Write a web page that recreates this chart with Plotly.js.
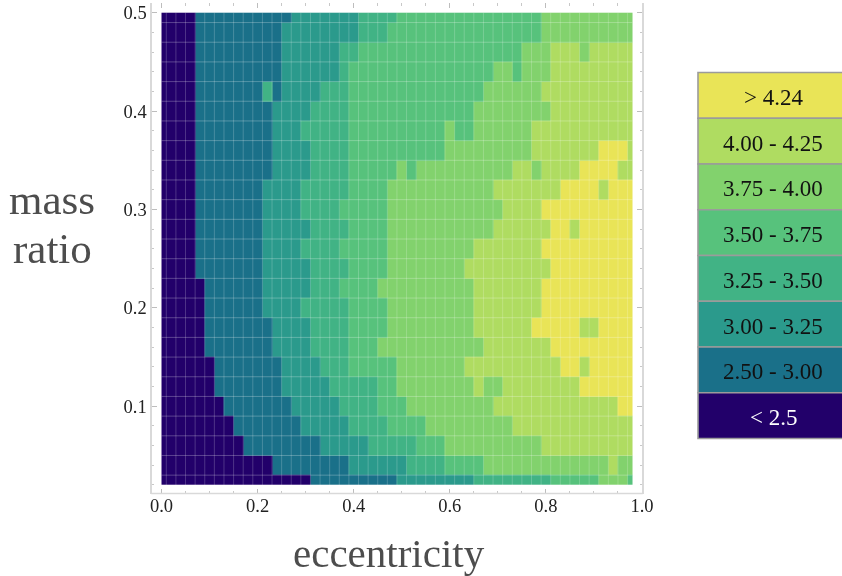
<!DOCTYPE html>
<html>
<head>
<meta charset="utf-8">
<script src="https://cdn.plot.ly/plotly-3.0.1.min.js"></script>
<style>html,body{margin:0;padding:0;background:#fff;overflow:hidden}#chart{width:842px;height:576px;filter:blur(0.4px)}</style>
</head>
<body>
<div id="chart"></div>
<script>
const eccentricity = [0.00,0.02,0.04,0.06,0.08,0.10,0.12,0.14,0.16,0.18,0.20,0.22,0.24,0.26,0.28,0.30,0.32,0.34,0.36,0.38,0.40,0.42,0.44,0.46,0.48,0.50,0.52,0.54,0.56,0.58,0.60,0.62,0.64,0.66,0.68,0.70,0.72,0.74,0.76,0.78,0.80,0.82,0.84,0.86,0.88,0.90,0.92,0.94,0.96,0.98];
const massRatio = [0.50,0.48,0.46,0.44,0.42,0.40,0.38,0.36,0.34,0.32,0.30,0.28,0.26,0.24,0.22,0.20,0.18,0.16,0.14,0.12,0.10,0.08,0.06,0.04,0.02];

// Band index of each cell, one string per mass ratio (top to bottom), spaces only separate runs.
const bandRows = [
"0000 1111111111 2222222 3333 444444444444444 5555555555",
"0000 111111111 22222222 333 4444444444444444 5555555555",
"0000 111111111 222222 33 44444444444444444 555 666 5 66666",
"0000 111111111 222222 3 444444444444444 55 4 555 666666666",
"0000 1111111 3 1 2222 333 44444444444444 555555 6666666666",
"0000 11111111 2222 3333 4444444444444 55555555 666666666",
"0000 11111111 222 33333 4444444444 5 44 555555 66666666666",
"0000 11111111 2222 3333 4444444444 555555555 6666666 777 6",
"0000 11111111 2222 3333 44444 5 4 5555555555 66 5 6666 7777 66",
"0000 1111111 2222 33333 4444 55555555555 6666666 7777 6 777",
"0000 1111111 2222 3333 44444 555555555555 6666 7777777777",
"0000 1111111 22222 3333 4444 55555555555 666666 77 6 777777",
"0000 1111111 2222 3333 44444 555555555 6666666 7777777777",
"0000 1111111 22222 3333 4444 55555555 666666666 777777777",
"00000 111111 22222 333 4444 5555555555 6666666 7777777777",
"00000 111111 2222 33333 4444 555555555 6666666 7777777777",
"00000 1111111 2222 3333 4444 555555555 666666 77777 66 7777",
"00000 1111111 2222 3333 444 55555555555 6666666 777777777",
"000000 1111111 2222 333 44444 5555555 6666666666 77 6 77777",
"000000 1111111 22222 33333 44 55555555 6 55 66666666 777777",
"0000000 1111111 22222 3333 444 555555555 6666666666666 77",
"00000000 1111111 22222 3333 4444 555555555 6666666666666",
"000000000 11111111 22222 33333 444 5555555555 6666666666",
"000000000000 11111111 222222 3333 4444 5555555555555 6 55",
"0000000000000000 111111111 22222222 33333333 44444 555 4"
];
const bandLabels = ["< 2.5","2.50 - 3.00","3.00 - 3.25","3.25 - 3.50","3.50 - 3.75","3.75 - 4.00","4.00 - 4.25","> 4.24"];
const bandColors = ["#22006a","#1a7089","#2b9a8c","#41b385","#57c27c","#82d26d","#afdc61","#e9e457"];
const bandTextColors = ["#ffffff","#111111","#111111","#111111","#111111","#111111","#111111","#111111"];

const W = 842, H = 576;
const px = v => v / W;
const py = v => 1 - v / H;

function edgesOf(c) {
  const e = [c[0]];
  for (let i = 0; i < c.length - 1; i++) e.push((c[i] + c[i + 1]) / 2);
  e.push(c[c.length - 1]);
  return e;
}
const xEdges = edgesOf(eccentricity);
const yEdges = edgesOf(massRatio);
const z = bandRows.map(r => r.replace(/ /g, '').split('').map(Number));

const n = bandColors.length;
const colorscale = [];
bandColors.forEach((c, i) => { colorscale.push([i / n, c]); colorscale.push([(i + 1) / n, c]); });

const shapes = [];
// faint mesh over the cells
const innerX = xEdges.slice(1, -1), innerY = yEdges.slice(1, -1);
innerX.forEach(v => shapes.push({type:'line', xref:'x', yref:'y', x0:v, x1:v, y0:yEdges[yEdges.length-1], y1:yEdges[0], line:{color:'rgba(255,255,255,0.2)', width:1}}));
innerY.forEach(v => shapes.push({type:'line', xref:'x', yref:'y', y0:v, y1:v, x0:xEdges[0], x1:xEdges[xEdges.length-1], line:{color:'rgba(255,255,255,0.26)', width:1}}));
// bottom edge of the frame (the top edge has ticks only)
shapes.push({type:'line', xref:'paper', yref:'paper', x0:px(151.2), x1:px(642.8), y0:py(493.5), y1:py(493.5), line:{color:'#d9d9d9', width:1.5}});

// band key on the right
const annotations = [];
const keyTop = 72.5, keyRow = 45.75, keyLeft = 698, keyRight = 843;
for (let i = 0; i < n; i++) {
  const band = n - 1 - i;
  const y0 = keyTop + i * keyRow, y1 = y0 + keyRow;
  shapes.push({type:'rect', xref:'paper', yref:'paper', x0:px(keyLeft), x1:px(keyRight), y0:py(y0), y1:py(y1),
    fillcolor:bandColors[band], line:{color:'#9b9b9b', width:1.6}});
  annotations.push({xref:'paper', yref:'paper', x:px(773), y:py((y0 + y1) / 2 + 2), text:bandLabels[band], showarrow:false,
    xanchor:'center', yanchor:'middle', font:{family:'Liberation Serif, serif', size:23, color:bandTextColors[band]}});
}
annotations.push({xref:'paper', yref:'paper', x:px(52), y:py(199), text:'mass', showarrow:false, xanchor:'center', yanchor:'middle',
  font:{family:'Liberation Serif, serif', size:43, color:'#4d4d4d'}});
annotations.push({xref:'paper', yref:'paper', x:px(52), y:py(248), text:'ratio', showarrow:false, xanchor:'center', yanchor:'middle',
  font:{family:'Liberation Serif, serif', size:43, color:'#4d4d4d'}});
annotations.push({xref:'paper', yref:'paper', x:px(389), y:py(553), text:'eccentricity', showarrow:false, xanchor:'center', yanchor:'middle',
  font:{family:'Liberation Serif, serif', size:41, color:'#4d4d4d'}});

const tickFont = {family:'Liberation Serif, serif', size:18.5, color:'#222222'};
const axisCommon = {
  showgrid:false, zeroline:false, mirror:'ticks',
  ticks:'inside', tickcolor:'#bdbdbd', tickwidth:1, ticklen:5, tickfont:tickFont, layer:'above traces'
};

const data = [{
  type:'heatmap', x:xEdges, y:yEdges, z:z, zmin:-0.5, zmax:n - 0.5,
  colorscale:colorscale, showscale:false, zsmooth:false, hoverinfo:'skip'
}];
const layout = {
  width:W, height:H, margin:{l:0, r:0, t:0, b:0}, paper_bgcolor:'#ffffff', plot_bgcolor:'#ffffff', showlegend:false,
  xaxis:Object.assign({}, axisCommon, {
    showline:false,
    domain:[px(151.9), px(642)], range:[-0.02, 1.0], tickmode:'linear', tick0:0, dtick:0.2, tickformat:'.1f', ticklabelstandoff:-1,
    minor:{dtick:0.05, tick0:0, ticks:'inside', ticklen:2.5, tickcolor:'#c8c8c8', tickwidth:1}
  }),
  yaxis:Object.assign({}, axisCommon, {
    showline:true, linecolor:'#d9d9d9', linewidth:1.5,
    domain:[py(493.5), py(3)], range:[0.02 - 8.5 / 983, 0.5 + 9.7 / 983], tickmode:'linear', tick0:0, dtick:0.1, tickformat:'.1f',
    minor:{dtick:0.02, tick0:0, ticks:'inside', ticklen:2.5, tickcolor:'#c8c8c8', tickwidth:1}
  }),
  shapes:shapes, annotations:annotations
};
Plotly.newPlot('chart', data, layout, {displayModeBar:false, staticPlot:true});
</script>
</body>
</html>
